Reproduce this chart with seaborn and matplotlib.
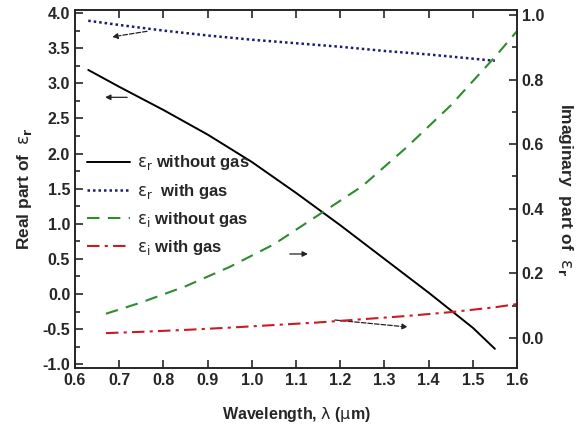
import numpy as np
import pandas as pd
import matplotlib
matplotlib.use("Agg")
import matplotlib.pyplot as plt
import seaborn as sns

# wavelength grids (um)
WL_R = [0.63, 0.70, 0.80, 0.90, 1.00, 1.10, 1.20, 1.30, 1.40, 1.50, 1.55]
WL_I = [0.67, 0.75, 0.85, 0.95, 1.05, 1.15, 1.25, 1.35, 1.45, 1.55, 1.60]

# real part (left axis)
ER_NO_GAS = [3.19, 2.95, 2.62, 2.27, 1.88, 1.44, 0.98, 0.50, 0.02, -0.48, -0.78]
ER_GAS = [3.89, 3.83, 3.75, 3.68, 3.62, 3.57, 3.52, 3.46, 3.41, 3.35, 3.32]

# imaginary part (right axis)
EI_NO_GAS = [0.075, 0.11, 0.16, 0.22, 0.29, 0.38, 0.47, 0.59, 0.72, 0.87, 0.95]
EI_GAS = [0.015, 0.019, 0.025, 0.032, 0.040, 0.048, 0.058, 0.068, 0.080, 0.095, 0.105]

LABELS = [r"$\varepsilon_r$ without gas", r"$\varepsilon_r$  with gas",
          r"$\varepsilon_i$ without gas", r"$\varepsilon_i$ with gas"]

# small pointer arrows (tail -> head), left-axis data coords
ARROWS = [((0.763, 3.74), (0.684, 3.66), "--"),
          ((0.718, 2.80), (0.668, 2.80), "-"),
          ((1.086, 0.57), (1.127, 0.57), "-"),
          ((1.188, -0.37), (1.353, -0.47), "--")]

sns.set_style("ticks")
plt.rcParams["font.family"] = ["Liberation Sans", "DejaVu Sans"]
plt.rcParams["mathtext.fontset"] = "dejavusans"
plt.rcParams["mathtext.default"] = "rm"

fig = plt.figure(figsize=(5.77, 4.34), dpi=100)
ax = fig.add_axes([75 / 577, 1 - 368 / 434, 442 / 577, 358 / 434])
ax2 = ax.twinx()

df_r = pd.DataFrame({"wl": WL_R, "no": ER_NO_GAS, "gas": ER_GAS})
df_i = pd.DataFrame({"wl": WL_I, "no": EI_NO_GAS, "gas": EI_GAS})

sns.lineplot(data=df_r, x="wl", y="no", ax=ax, color="black", lw=1.4,
             label=LABELS[0], legend=False)
sns.lineplot(data=df_r, x="wl", y="gas", ax=ax, color="#1c1c78", lw=1.8,
             linestyle=(0, (1, 1.2)), label=LABELS[1], legend=False)
sns.lineplot(data=df_i, x="wl", y="no", ax=ax2, color="#2e8b2e", lw=1.5,
             linestyle=(0, (6, 4)), label=LABELS[2], legend=False)
sns.lineplot(data=df_i, x="wl", y="gas", ax=ax2, color="#cc1a24", lw=1.5,
             linestyle=(0, (6, 2.5, 1.5, 2.5)), label=LABELS[3], legend=False)

for tail, head, ls in ARROWS:
    ax.annotate("", xy=head, xytext=tail,
                arrowprops=dict(arrowstyle="-|>", color="#222222", lw=0.9,
                                ls=ls, mutation_scale=8, shrinkA=0, shrinkB=0))

ax.set_xlim(0.6, 1.6)
ax.set_ylim(-1.053, 4.043)
ax2.set_ylim(-0.093, 1.0155)
xt = np.arange(0.6, 1.61, 0.1)
yt = np.arange(-1.0, 4.01, 0.5)
yt2 = np.arange(0.0, 1.01, 0.2)
ax.set_xticks(xt)
ax.set_yticks(yt)
ax.set_yticks(np.arange(-0.75, 4.0, 0.5), minor=True)
ax2.set_yticks(yt2)
ax2.set_yticks(np.arange(0.1, 1.0, 0.2), minor=True)

ax.tick_params(axis="both", which="both", direction="in", top=True,
               labelsize=11.5, width=1.2)
ax.tick_params(which="major", length=6)
ax.tick_params(which="minor", length=3.5)
ax2.tick_params(axis="y", which="both", direction="in", labelsize=11.5, width=1.2)
ax2.tick_params(which="major", length=6)
ax2.tick_params(which="minor", length=3.5)
ax.set_xticklabels([f"{v:.1f}" for v in xt], fontweight="bold")
ax.set_yticklabels([f"{v:.1f}" for v in yt], fontweight="bold")
ax2.set_yticklabels([f"{v:.1f}" for v in yt2], fontweight="bold")
for spine in list(ax.spines.values()) + list(ax2.spines.values()):
    spine.set_linewidth(1.2)

ax.set_xlabel(r"Wavelength, $\lambda$ ($\mu$m)", fontsize=11.5,
              fontweight="bold", labelpad=12)
ax.set_ylabel(r"Real part of  $\varepsilon_\mathbf{r}$", fontsize=12.5,
              fontweight="bold", labelpad=6)
ax2.set_ylabel(r"Imaginary  part of  $\varepsilon_\mathbf{r}$", fontsize=12.5,
               fontweight="bold", rotation=270, labelpad=22)

handles = ax.get_lines()[:2] + ax2.get_lines()[:2]
ax.legend(handles, LABELS, loc="center left", bbox_to_anchor=(0.0, 0.455),
          frameon=False, handlelength=2.6, handletextpad=0.4,
          labelspacing=0.55, borderaxespad=0.3,
          prop={"weight": "bold", "size": 12})

fig.savefig("out.png", dpi=100)
